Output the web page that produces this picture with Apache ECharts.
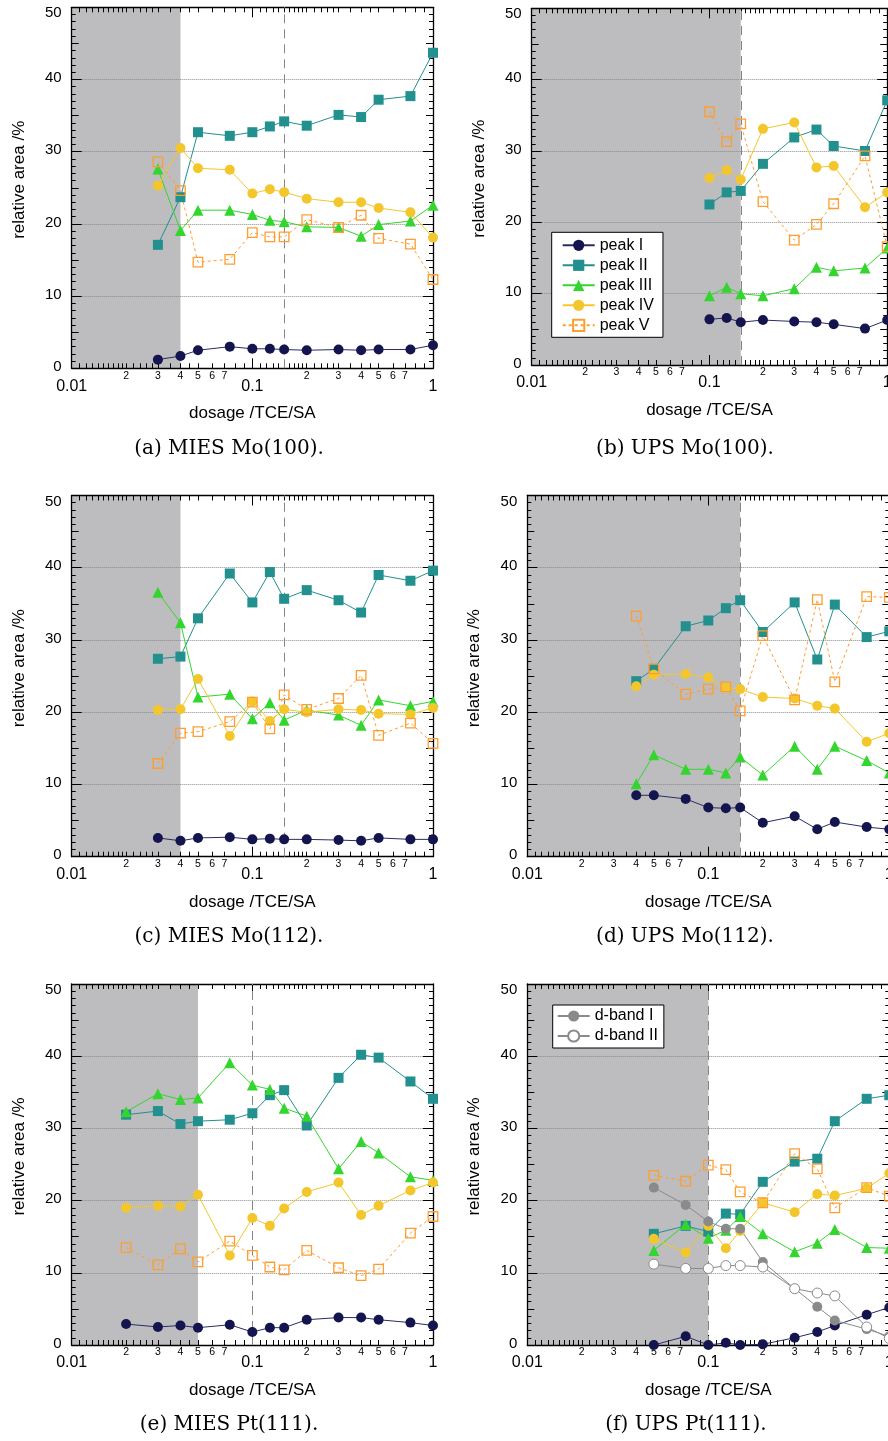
<!DOCTYPE html>
<html>
<head>
<meta charset="utf-8">
<script src="https://cdn.jsdelivr.net/npm/echarts@6/dist/echarts.min.js"></script>
<style>
html,body{margin:0;padding:0;background:#fff;overflow:hidden;}
#c{width:888px;height:1441px;}
</style>
</head>
<body>
<div id="c"></div>
<script>
// ---------------- DATA ----------------
const peakNames = ['peak I', 'peak II', 'peak III', 'peak IV', 'peak V'];
const dbandNames = ['d-band I', 'd-band II'];
const captions = ['(a) MIES Mo(100).', '(b) UPS Mo(100).', '(c) MIES Mo(112).', '(d) UPS Mo(112).', '(e) MIES Pt(111).', '(f) UPS Pt(111).'];
const xAxisName = 'dosage /TCE/SA';
const yAxisName = 'relative area /%';
const shadeEnd = [0.04, 0.15, 0.04, 0.15, 0.05, 0.1];
const dashAt = [0.15, 0.15, 0.15, 0.15, 0.1, 0.1];
const minorMultipliers = [1.1, 1.2, 1.3, 1.4, 1.5, 1.6, 1.7, 1.8, 1.9, 2, 2.2, 2.4, 2.6, 2.8, 3, 3.5, 4, 4.5, 5, 6, 7, 8, 9];
const minorLabelMultipliers = [2, 3, 4, 5, 6, 7];
const decades = [0.01, 0.1];

// (a) MIES Mo(100)
const xA = [0.03, 0.04, 0.05, 0.075, 0.1, 0.125, 0.15, 0.2, 0.3, 0.4, 0.5, 0.75, 1.0];
const aI   = [1.2, 1.7, 2.5, 3.0, 2.7, 2.7, 2.6, 2.5, 2.6, 2.5, 2.6, 2.6, 3.2];
const aII  = [17.1, 23.7, 32.7, 32.2, 32.7, 33.5, 34.2, 33.6, 35.1, 34.8, 37.2, 37.7, 43.7];
const aIII = [27.6, 19.1, 21.9, 21.9, 21.3, 20.5, 20.3, 19.6, 19.5, 18.3, 19.9, 20.4, 22.6];
const aIV  = [25.3, 30.5, 27.7, 27.5, 24.2, 24.8, 24.4, 23.5, 23.0, 23.0, 22.2, 21.6, 18.1];
const aV   = [28.6, 24.6, 14.7, 15.1, 18.8, 18.2, 18.2, 20.6, 19.5, 21.2, 18.0, 17.2, 12.3];

// (b) UPS Mo(100)
const xB = [0.1, 0.125, 0.15, 0.2, 0.3, 0.4, 0.5, 0.75, 1.0];
const bI   = [6.4, 6.6, 6.0, 6.3, 6.1, 6.0, 5.7, 5.1, 6.3];
const bII  = [22.5, 24.2, 24.4, 28.2, 31.9, 33.0, 30.7, 30.0, 37.1];
const bIII = [9.7, 10.9, 10.0, 9.7, 10.7, 13.7, 13.2, 13.6, 16.4];
const bIV  = [26.2, 27.3, 26.0, 33.1, 34.0, 27.7, 27.9, 22.1, 24.2];
const bV   = [35.5, 31.3, 33.8, 22.9, 17.5, 19.7, 22.6, 29.3, 16.6];

// (c) MIES Mo(112)
const xC = [0.03, 0.04, 0.05, 0.075, 0.1, 0.125, 0.15, 0.2, 0.3, 0.4, 0.5, 0.75, 1.0];
const cI   = [2.6, 2.2, 2.6, 2.7, 2.4, 2.5, 2.4, 2.4, 2.3, 2.2, 2.6, 2.4, 2.4];
const cII  = [27.4, 27.7, 33.0, 39.2, 35.2, 39.4, 35.7, 36.9, 35.5, 33.8, 39.0, 38.2, 39.6];
const cIII = [36.6, 32.4, 22.1, 22.5, 19.1, 21.3, 18.9, 20.3, 19.6, 18.2, 21.7, 20.9, 21.5];
const cIV  = [20.3, 20.4, 24.6, 16.7, 21.5, 18.8, 20.4, 20.0, 20.4, 20.3, 19.8, 19.7, 20.6];
const cV   = [12.9, 17.1, 17.3, 18.7, 21.4, 17.7, 22.4, 20.4, 21.9, 25.1, 16.8, 18.5, 15.7];

// (d) UPS Mo(112)
const xD = [0.04, 0.05, 0.075, 0.1, 0.125, 0.15, 0.2, 0.3, 0.4, 0.5, 0.75, 1.0];
const dI   = [8.5, 8.5, 8.0, 6.8, 6.7, 6.8, 4.7, 5.6, 3.8, 4.8, 4.1, 3.8];
const dII  = [24.3, 26.0, 31.9, 32.7, 34.4, 35.5, 31.1, 35.2, 27.3, 34.9, 30.4, 31.2];
const dIII = [10.1, 14.1, 12.1, 12.1, 11.6, 13.8, 11.3, 15.3, 12.1, 15.3, 13.3, 11.6];
const dIV  = [23.6, 25.2, 25.3, 24.8, 23.4, 23.2, 22.1, 21.9, 20.9, 20.5, 15.9, 17.1];
const dV   = [33.3, 26.0, 22.5, 23.2, 23.5, 20.2, 30.6, 21.7, 35.6, 24.2, 36.0, 35.9];

// (e) MIES Pt(111)
const xE = [0.02, 0.03, 0.04, 0.05, 0.075, 0.1, 0.125, 0.15, 0.2, 0.3, 0.4, 0.5, 0.75, 1.0];
const eI   = [2.9, 2.5, 2.7, 2.4, 2.8, 1.8, 2.4, 2.4, 3.5, 3.8, 3.8, 3.5, 3.1, 2.7];
const eII  = [31.9, 32.4, 30.6, 31.0, 31.2, 32.1, 34.6, 35.3, 30.4, 37.0, 40.2, 39.8, 36.5, 34.1];
const eIII = [32.3, 34.8, 34.0, 34.2, 39.1, 36.0, 35.4, 32.8, 31.7, 24.4, 28.2, 26.6, 23.3, 22.8];
const eIV  = [19.0, 19.3, 19.2, 20.8, 12.4, 17.6, 16.5, 18.9, 21.2, 22.5, 18.0, 19.3, 21.4, 22.5];
const eV   = [13.5, 11.1, 13.3, 11.5, 14.4, 12.4, 10.8, 10.4, 13.1, 10.7, 9.6, 10.5, 15.5, 17.8];

// (f) UPS Pt(111)
const xF = [0.05, 0.075, 0.1, 0.125, 0.15, 0.2, 0.3, 0.4, 0.5, 0.75, 1.0];
const fI   = [0.0, 1.2, 0.0, 0.3, 0.0, 0.1, 1.0, 1.8, 2.7, 4.2, 5.2];
const fII  = [15.4, 16.5, 15.7, 18.2, 18.1, 22.6, 25.4, 25.8, 31.0, 34.1, 34.6];
const fIII = [13.1, 16.7, 14.8, 15.9, 17.8, 15.4, 12.9, 14.1, 16.0, 13.5, 13.4];
const fIV  = [14.7, 12.8, 16.5, 13.4, 15.8, 19.7, 18.4, 20.9, 20.7, 21.7, 23.8];
const fV   = [23.5, 22.7, 24.9, 24.3, 21.2, 19.7, 26.5, 24.4, 19.0, 21.8, 20.6];
const fDbandI  = [21.8, 19.4, 17.1, 16.1, 16.1, 11.5, 7.8, 5.3, 3.4, 2.2, 1.2];
const fDbandII = [11.2, 10.6, 10.6, 11.0, 11.0, 10.8, 7.8, 7.2, 6.8, 2.5, 0.9];

// ---------------- LAYOUT / STYLE ----------------
const FONT = '"Liberation Sans", Arial, Helvetica, sans-serif';
const SERIF = '"DejaVu Serif", "Liberation Serif", serif';
const layout = [
  {left: 71.7, top: 7.3, width: 361.3, height: 361},
  {left: 531.7, top: 8.3, width: 355.5, height: 356.7},
  {left: 71.7, top: 495.5, width: 361.3, height: 361.2},
  {left: 527.3, top: 495.5, width: 362, height: 361.2},
  {left: 71.7, top: 984, width: 361.3, height: 361},
  {left: 527.3, top: 984, width: 362, height: 361}
];
const captionPos = [[229, 449], [685, 449], [229, 937], [685, 937], [229, 1425], [686, 1425]];

const panels = [
  {x: xA, ys: [aI, aII, aIII, aIV, aV], names: peakNames},
  {x: xB, ys: [bI, bII, bIII, bIV, bV], names: peakNames},
  {x: xC, ys: [cI, cII, cIII, cIV, cV], names: peakNames},
  {x: xD, ys: [dI, dII, dIII, dIV, dV], names: peakNames},
  {x: xE, ys: [eI, eII, eIII, eIV, eV], names: peakNames},
  {x: xF, ys: [fI, fII, fIII, fIV, fV, fDbandI, fDbandII], names: peakNames.concat(dbandNames)}
];

const styles = {
  'peak I':   {symbol: 'circle',   size: 10, item: {color: '#14144f'}, line: {color: '#2b2b63', width: 1}},
  'peak II':  {symbol: 'rect',     size: 10, item: {color: '#21908e'}, line: {color: '#21908e', width: 1}},
  'peak III': {symbol: 'triangle', size: 11, item: {color: '#35d52f'}, line: {color: '#35d52f', width: 1}},
  'peak IV':  {symbol: 'circle',   size: 10, item: {color: '#f3c72b'}, line: {color: '#f3c72b', width: 1}},
  'peak V':   {symbol: 'rect',     size: 9.5, item: {color: 'rgba(255,255,255,0)', borderColor: '#ff9d2e', borderWidth: 1.3}, line: {color: '#ff9d2e', width: 1, type: [3, 3]}},
  'd-band I': {symbol: 'circle',   size: 10, item: {color: '#8a8a8a'}, line: {color: '#8a8a8a', width: 1}},
  'd-band II':{symbol: 'circle',   size: 10, item: {color: '#ffffff', borderColor: '#8a8a8a', borderWidth: 1}, line: {color: '#8a8a8a', width: 1}}
};

const log10 = Math.log10;
const minorTickVals = [];
decades.forEach(d => minorMultipliers.forEach(m => minorTickVals.push(log10(d * m))));
const minorLabelVals = [];
decades.forEach(d => minorLabelMultipliers.forEach(m => minorLabelVals.push(log10(d * m))));

function mainX(gi, pos, labels) {
  return {
    type: 'log', logBase: 10, min: 0.01, max: 1, gridIndex: gi, position: pos,
    axisLine: {show: true, onZero: false, lineStyle: {color: '#000', width: 1.3}},
    axisTick: {show: true, inside: true, length: 10, lineStyle: {color: '#000', width: 1}},
    axisLabel: {show: labels, margin: 10, fontSize: 16, color: '#000', fontFamily: FONT,
      formatter: v => String(Number(Number(v).toPrecision(2)))},
    splitLine: {show: false},
    name: labels ? xAxisName : '', nameLocation: 'middle', nameGap: 37,
    nameTextStyle: {fontSize: 17, color: '#000', fontFamily: FONT}
  };
}
function minorX(gi, pos, labels) {
  return {
    type: 'value', min: -2, max: 0, gridIndex: gi, position: pos,
    axisLine: {show: false, onZero: false},
    axisTick: {show: true, inside: true, length: 5, lineStyle: {color: '#000', width: 1}, customValues: minorTickVals},
    axisLabel: {show: labels, margin: 2, fontSize: 10.5, color: '#000', fontFamily: FONT, customValues: minorLabelVals,
      formatter: v => String(Math.round(Math.pow(10, v - Math.floor(v + 1e-9))))},
    splitLine: {show: false}
  };
}
function mainY(gi, pos, labels) {
  return {
    type: 'value', min: 0, max: 50, interval: 10, gridIndex: gi, position: pos,
    axisLine: {show: true, onZero: false, lineStyle: {color: '#000', width: 1.3}},
    axisTick: {show: true, inside: true, length: 10, lineStyle: {color: '#000', width: 1}},
    minorTick: {show: true, splitNumber: 10, length: 4, lineStyle: {color: '#000', width: 1}},
    axisLabel: {show: labels, margin: 10, fontSize: 15, color: '#000', fontFamily: FONT,
      formatter: v => (v === 50 ? '{t|' + v + '}' : '{n|' + v + '}'),
      rich: {t: {fontSize: 15, fontFamily: FONT, color: '#000', padding: [12, 0, 0, 0]},
             n: {fontSize: 15, fontFamily: FONT, color: '#000', padding: [0, 0, 3, 0]}}},
    splitLine: {show: labels, lineStyle: {type: 'dotted', color: '#8a8a8a', width: 1}},
    name: labels ? yAxisName : '', nameLocation: 'middle', nameGap: 44,
    nameTextStyle: {fontSize: 17, color: '#000', fontFamily: FONT, padding: [0, 0, 0, 16]}
  };
}
function midY(gi, pos) {
  return {
    type: 'value', min: 0, max: 50, gridIndex: gi, position: pos,
    axisLine: {show: false, onZero: false},
    axisTick: {show: true, inside: true, length: 7, lineStyle: {color: '#000', width: 1}, customValues: [5, 15, 25, 35, 45]},
    axisLabel: {show: false},
    splitLine: {show: false}
  };
}

const grid = [], xAxis = [], yAxis = [], series = [];
panels.forEach((p, gi) => {
  const L = layout[gi];
  grid.push({left: L.left, top: L.top, width: L.width, height: L.height, show: false,
    containLabel: false, outerBoundsMode: 'none'});
  const xb = xAxis.length;
  xAxis.push(mainX(gi, 'bottom', true));
  xAxis.push(minorX(gi, 'bottom', true));
  xAxis.push(mainX(gi, 'top', false));
  xAxis.push(minorX(gi, 'top', false));
  const yb = yAxis.length;
  yAxis.push(mainY(gi, 'left', true));
  yAxis.push(midY(gi, 'left'));
  yAxis.push(mainY(gi, 'right', false));
  yAxis.push(midY(gi, 'right'));
  p.ys.forEach((ys, k) => {
    const name = p.names[k];
    const st = styles[name];
    const s = {
      type: 'line', name: name, xAxisIndex: xb, yAxisIndex: yb,
      data: p.x.map((x, i) => [x, ys[i]]),
      symbol: st.symbol, symbolSize: st.size,
      itemStyle: st.item, lineStyle: st.line,
      silent: true, emphasis: {disabled: true}, clip: true
    };
    if (k === 0) {
      s.markArea = {silent: true, z: -1, itemStyle: {color: '#bdbdbf'},
        data: [[{xAxis: 0.01}, {xAxis: shadeEnd[gi]}]]};
      s.markLine = {silent: true, z: 1, symbol: ['none', 'none'], label: {show: false},
        lineStyle: {type: [9, 6], color: '#858585', width: 1},
        data: [{xAxis: dashAt[gi]}]};
    }
    series.push(s);
  });
});

const legendCommon = {
  orient: 'vertical', itemWidth: 32, itemHeight: 14, itemGap: 4,
  backgroundColor: '#fff', borderColor: '#000', borderWidth: 1, borderRadius: 0,
  selectedMode: false,
  textStyle: {fontSize: 16, lineHeight: 16, color: '#000', fontFamily: FONT}
};

const option = {
  animation: false,
  backgroundColor: '#fff',
  grid, xAxis, yAxis, series,
  legend: [
    Object.assign({}, legendCommon, {data: peakNames, left: 551.7, top: 232.3, padding: [5, 9, 4, 10]}),
    Object.assign({}, legendCommon, {data: dbandNames, left: 552.7, top: 1005, padding: [3, 6, 4, 4]})
  ],
  graphic: captions.map((t, i) => ({
    type: 'text', x: captionPos[i][0], y: captionPos[i][1], silent: true,
    style: {text: t, fill: '#000', fontSize: 20, fontFamily: SERIF, align: 'center', verticalAlign: 'middle'}
  }))
};

const chart = echarts.init(document.getElementById('c'), null, {renderer: 'canvas'});
chart.setOption(option);
</script>
</body>
</html>
